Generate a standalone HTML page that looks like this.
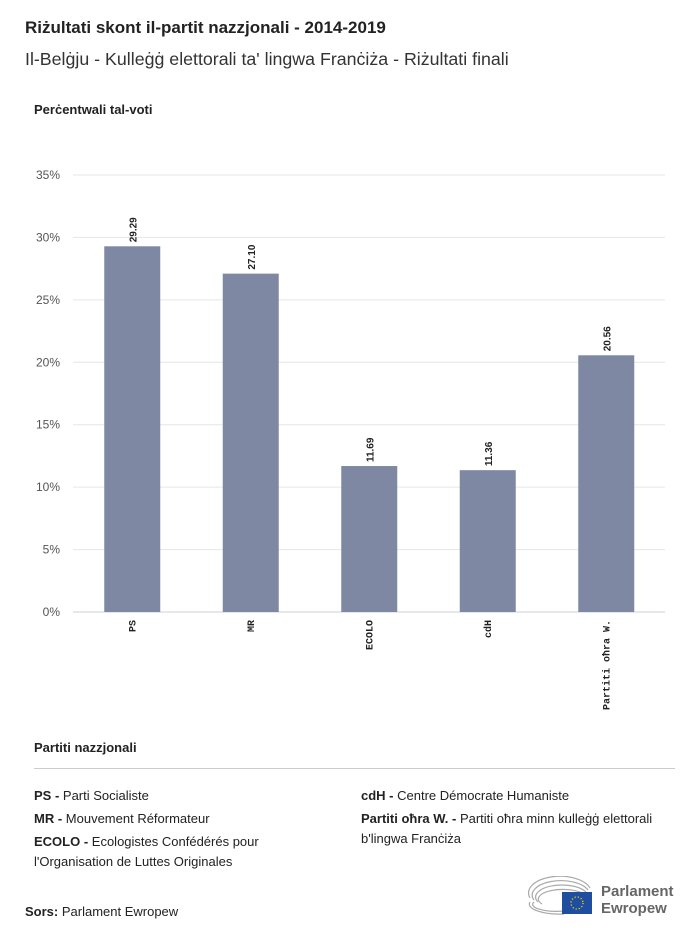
<!DOCTYPE html>
<html><head><meta charset="utf-8">
<style>
body{margin:0;background:#fff;font-family:"Liberation Sans",sans-serif;color:#222;}
#wrap{position:relative;width:700px;height:936px;overflow:hidden;}
.t{position:absolute;white-space:nowrap;}
</style></head><body>
<div id="wrap">
<div class="t" style="left:25px;top:18px;font-size:17px;font-weight:bold;">Riżultati skont il-partit nazzjonali - 2014-2019</div>
<div class="t" style="left:25px;top:49px;font-size:17.8px;color:#333;">Il-Belġju - Kulleġġ elettorali ta' lingwa Franċiża - Riżultati finali</div>
<div class="t" style="left:34px;top:102px;font-size:13px;font-weight:bold;">Perċentwali tal-voti</div>
<svg id="chart" width="700" height="730" style="position:absolute;left:0;top:0"></svg>
<div class="t" style="left:34px;top:740px;font-size:13px;font-weight:bold;">Partiti nazzjonali</div>
<div style="position:absolute;left:34px;top:768px;width:641px;height:1px;background:#ccc;"></div>
<div style="position:absolute;left:34px;top:786px;width:290px;font-size:13px;line-height:20px;">
<div style="margin-bottom:3px"><b>PS -</b> Parti Socialiste</div>
<div style="margin-bottom:3px"><b>MR -</b> Mouvement Réformateur</div>
<div><b>ECOLO -</b> Ecologistes Confédérés pour l'Organisation de Luttes Originales</div>
</div>
<div style="position:absolute;left:361px;top:786px;width:320px;font-size:13px;line-height:20px;">
<div style="margin-bottom:3px"><b>cdH -</b> Centre Démocrate Humaniste</div>
<div><b>Partiti oħra W. -</b> Partiti oħra minn kulleġġ elettorali b'lingwa Franċiża</div>
</div>
<div class="t" style="left:25px;top:904px;font-size:13px;"><b>Sors:</b> Parlament Ewropew</div>
<svg style="position:absolute;left:528px;top:876px" width="70" height="42">
<g fill="none" stroke="#aaa" stroke-width="1.2">
<path d="M2 22 A30 16 0 0 1 62 12"/><path d="M6 24 A26 13 0 0 1 60 14"/><path d="M10 26 A22 10 0 0 1 58 16"/><path d="M14 28 A18 7 0 0 1 56 18"/>
<path d="M2 26 A30 10 0 0 0 36 38"/><path d="M6 26 A24 7 0 0 0 36 35"/>
</g>
<rect x="34" y="16" width="30" height="22" fill="#1f4ea0"/>
<circle cx="49" cy="27" r="6" fill="none" stroke="#f5d000" stroke-width="1.3" stroke-dasharray="1.2 2"/>
</svg>
<div class="t" style="left:601px;top:883px;font-size:15px;font-weight:bold;color:#666;line-height:17px;">Parlament<br>Ewropew</div>
</div>
<script>
const categories=["PS","MR","ECOLO","cdH","Partiti oħra W."];
const values=[29.29,27.10,11.69,11.36,20.56];
const valueLabels=["29.29","27.10","11.69","11.36","20.56"];
const yTicks=[0,5,10,15,20,25,30,35];
const yTickLabels=["0%","5%","10%","15%","20%","25%","30%","35%"];
const NS="http://www.w3.org/2000/svg";
const svg=document.getElementById('chart');
const y0=612,yTop=175,yMax=35,x0=73,xStep=118.5,bw=56,plotL=73,plotR=665;
const y=v=>y0-(v/yMax)*(y0-yTop);
const xc=i=>x0+xStep*(i+0.5);
function mk(t,a){const e=document.createElementNS(NS,t);for(const k in a)e.setAttribute(k,a[k]);svg.appendChild(e);return e;}
yTicks.forEach((t,i)=>{
  const l=mk('line',{x1:plotL,x2:plotR,y1:y(t),y2:y(t),stroke:i===0?'#ccd':'#e6e6e6','stroke-width':1});
  
  
  const tx=mk('text',{x:60,y:y(t)+4,'text-anchor':'end','font-size':12,fill:'#555','font-family':'Liberation Sans'});
  tx.textContent=yTickLabels[i];
  
  
});
values.forEach((v,i)=>{
  const r=mk('rect',{x:xc(i)-bw/2,y:y(v),width:bw,height:y0-y(v),fill:'#7f88a3'});
  
  
  const vl=mk('text',{transform:`translate(${xc(i)+4},${y(v)-4}) rotate(-90)`,'font-size':10,'font-weight':'bold',fill:'#222','font-family':'Liberation Sans'});
  vl.textContent=valueLabels[i];
  
  
  const cl=mk('text',{transform:`translate(${xc(i)+3},${y0+8}) rotate(-90)`,'text-anchor':'end','font-size':10,'font-weight':'bold',fill:'#222','font-family':'Liberation Mono'});
  cl.textContent=categories[i];
  
  
});
</script>
</body></html>
